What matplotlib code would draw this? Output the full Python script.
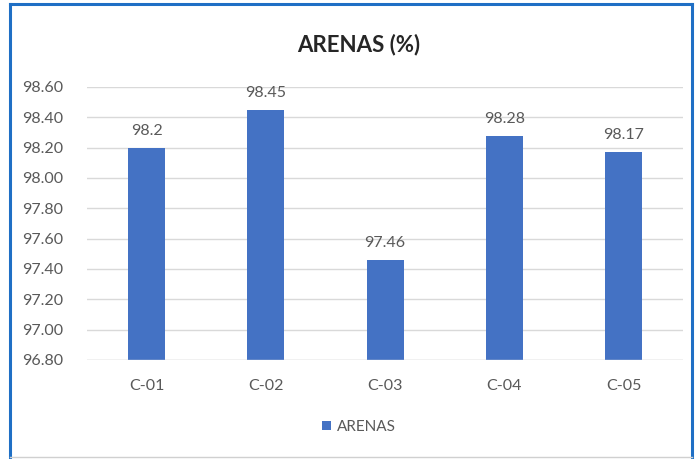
import matplotlib
matplotlib.use("Agg")
import matplotlib.pyplot as plt
from matplotlib.lines import Line2D

categories = ["C-01", "C-02", "C-03", "C-04", "C-05"]
values = [98.2, 98.45, 97.46, 98.28, 98.17]
value_labels = ["98.2", "98.45", "97.46", "98.28", "98.17"]
y_ticks = [96.80, 97.00, 97.20, 97.40, 97.60, 97.80, 98.00, 98.20, 98.40, 98.60]
series_name = "ARENAS"
title = "ARENAS (%)"

plt.rcParams["font.family"] = ["Lato", "DejaVu Sans"]
bar_color = "#4472C4"
text_color = "#595959"

fig = plt.figure(figsize=(6.97, 4.59), dpi=100)
ax = fig.add_axes([0.1248, 0.2157, 0.8552, 0.5948])

x = list(range(len(categories)))
bars = ax.bar(x, values, width=0.31, color=bar_color, label=series_name, zorder=3)

ax.set_ylim(y_ticks[0], y_ticks[-1])
ax.set_xlim(-0.5, len(categories) - 0.5)
ax.set_yticks(y_ticks)
ax.set_yticklabels([f"{t:.2f}" for t in y_ticks], fontsize=11.5, color=text_color)
ax.set_xticks(x)
ax.set_xticklabels(categories, fontsize=11.5, color=text_color)
ax.tick_params(axis="both", length=0)
ax.tick_params(axis="x", pad=14)
ax.tick_params(axis="y", pad=17)
ax.grid(axis="y", color="#D9D9D9", linewidth=1, zorder=0)
for s in ax.spines.values():
    s.set_visible(False)
ax.axhline(y_ticks[0], color="#D9D9D9", linewidth=1, zorder=4)

for rect, lab in zip(bars, value_labels):
    ax.annotate(lab, (rect.get_x() + rect.get_width() / 2, rect.get_height()),
                xytext=(0, 7), textcoords="offset points", ha="center", va="bottom",
                fontsize=11.5, color=text_color)

fig.text(0.515, 0.903, title, ha="center", va="center", fontsize=16,
         fontweight="bold", color="#262626")

leg = fig.legend(loc="center", bbox_to_anchor=(0.515, 0.07), frameon=False,
                 fontsize=11, handlelength=0.6, handleheight=0.6, handletextpad=0.4)
for t in leg.get_texts():
    t.set_color(text_color)

# chart frame
W, H = 697, 459
def fx(px):
    return px / W
def fy(py):
    return 1 - py / H
blue = "#1F6FC5"
fig.add_artist(Line2D([fx(10), fx(10)], [fy(4), fy(459)], color=blue, linewidth=2.2))
fig.add_artist(Line2D([fx(10), fx(692)], [fy(4), fy(4)], color=blue, linewidth=2.2))
fig.add_artist(Line2D([fx(692), fx(692)], [fy(4), fy(459)], color=blue, linewidth=2.2))
fig.add_artist(Line2D([fx(10), fx(692)], [fy(457), fy(457)], color="#D0D0D0", linewidth=1))

fig.savefig("out.png", dpi=100)
